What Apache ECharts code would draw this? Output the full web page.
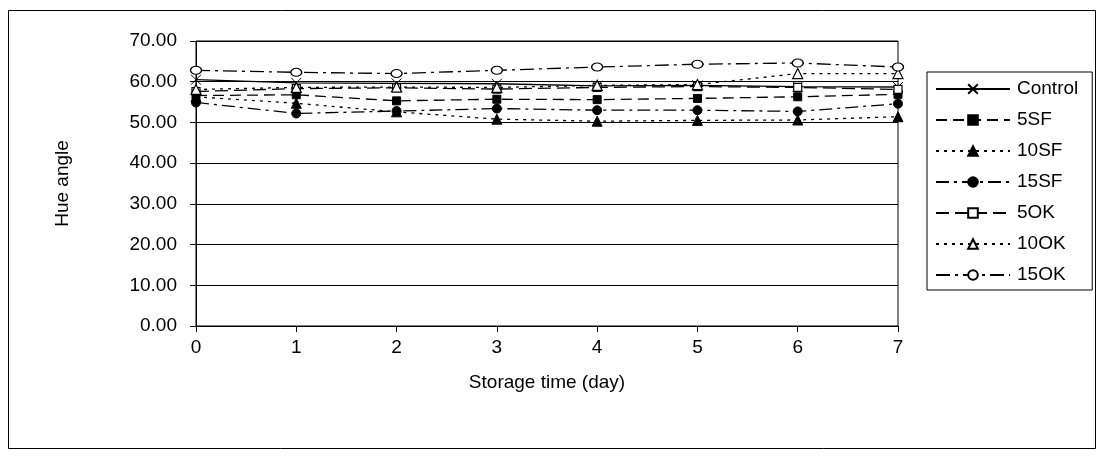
<!DOCTYPE html>
<html>
<head>
<meta charset="utf-8">
<script src="https://cdn.jsdelivr.net/npm/echarts@6/dist/echarts.min.js"></script>
<style>
html,body{margin:0;padding:0;background:#fff;}
#c{width:1098px;height:457px;}
</style>
</head>
<body>
<div id="c"></div>
<script>
const days = [0, 1, 2, 3, 4, 5, 6, 7];
const yTicks = [0, 10, 20, 30, 40, 50, 60, 70];
const seriesNames = ['Control', '5SF', '10SF', '15SF', '5OK', '10OK', '15OK'];
const control = [60.5, 59.7, 59.6, 59.5, 59.0, 59.1, 58.8, 58.7];
const sf5 = [56.6, 56.8, 55.3, 55.7, 55.6, 55.9, 56.3, 56.9];
const sf10 = [56.3, 54.7, 52.6, 50.8, 50.3, 50.5, 50.6, 51.4];
const sf15 = [54.9, 52.2, 52.8, 53.4, 53.0, 53.0, 52.7, 54.6];
const ok5 = [57.6, 58.3, 58.5, 58.2, 58.6, 58.8, 58.6, 58.1];
const ok10 = [58.1, 58.6, 58.7, 58.6, 59.1, 59.3, 62.0, 62.0];
const ok15 = [62.8, 62.3, 62.0, 62.8, 63.6, 64.3, 64.6, 63.6];

const FONT = '"Liberation Sans", Arial, sans-serif';
const pair = arr => days.map((d, i) => [d, arr[i]]);

function mk(name, data, dash, symbol, size, filled) {
  return {
    name: name,
    type: 'line',
    data: pair(data),
    symbol: symbol,
    symbolSize: size,
    showSymbol: true,
    lineStyle: { color: '#000', width: 1.3, type: dash },
    itemStyle: filled
      ? { color: '#000', borderColor: '#000', borderWidth: 1 }
      : { color: '#fff', borderColor: '#000', borderWidth: 1.2 },
    emphasis: { disabled: true },
    animation: false
  };
}

const chart = echarts.init(document.getElementById('c'), null, { renderer: 'canvas' });
chart.setOption({
  backgroundColor: '#fff',
  animation: false,
  graphic: [{
    type: 'rect',
    shape: { x: 8.5, y: 10.5, width: 1087, height: 438 },
    style: { fill: 'none', stroke: '#000', lineWidth: 1 },
    z: -1
  }],
  grid: { left: 196, top: 41, right: 200, bottom: 131, show: true, borderColor: '#000', borderWidth: 1 },
  legend: {
    orient: 'vertical',
    left: 927,
    top: 72,
    padding: [6, 14, 4, 8],
    itemWidth: 74,
    itemHeight: 12,
    itemGap: 9,
    borderColor: '#000',
    borderWidth: 1,
    backgroundColor: '#fff',
    textStyle: { fontFamily: FONT, fontSize: 19, color: '#000', padding: [0, 0, 0, 2], lineHeight: 22 },
    data: seriesNames
  },
  xAxis: {
    type: 'value',
    min: 0,
    max: 7,
    interval: 1,
    name: 'Storage time (day)',
    nameLocation: 'middle',
    nameGap: 47,
    nameTextStyle: { fontFamily: FONT, fontSize: 19, color: '#000' },
    axisLine: { show: true, onZero: false, lineStyle: { color: '#000', width: 1 } },
    axisTick: { show: true, length: 6, lineStyle: { color: '#000' } },
    axisLabel: { fontFamily: FONT, fontSize: 19, color: '#000', margin: 12 },
    splitLine: { show: false }
  },
  yAxis: {
    type: 'value',
    min: yTicks[0],
    max: yTicks[yTicks.length - 1],
    interval: 10,
    name: 'Hue angle',
    nameLocation: 'middle',
    nameGap: 124,
    nameTextStyle: { fontFamily: FONT, fontSize: 19, color: '#000' },
    axisLine: { show: true, lineStyle: { color: '#000', width: 1 } },
    axisTick: { show: true, length: 6, lineStyle: { color: '#000' } },
    axisLabel: { fontFamily: FONT, fontSize: 19, color: '#000', margin: 19, formatter: v => v.toFixed(2) },
    splitLine: { show: true, lineStyle: { color: '#000', width: 1 } }
  },
  series: [
    mk('Control', control, 'solid', 'path://M0,0L10,10M10,0L0,10', 10, true),
    mk('5SF', sf5, [11, 6], 'rect', 8, true),
    mk('10SF', sf10, [3, 5], 'triangle', 10, true),
    mk('15SF', sf15, [13, 5, 3, 5], 'circle', 9, true),
    mk('5OK', ok5, [13, 6], 'rect', 8, false),
    mk('10OK', ok10, [3, 5], 'triangle', 10, false),
    mk('15OK', ok15, [14, 5, 3, 5], 'circle', [11, 8], false)
  ]
});
</script>
</body>
</html>
